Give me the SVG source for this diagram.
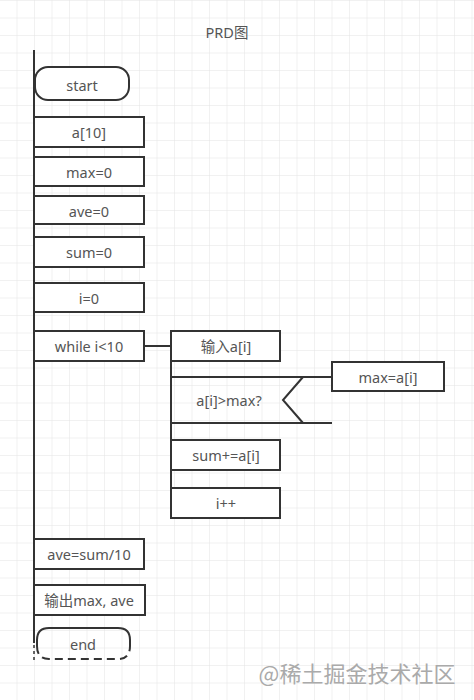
<svg xmlns="http://www.w3.org/2000/svg" width="474" height="700" viewBox="0 0 474 700">
<defs>
<pattern id="grid" x="16.5" y="0" width="17.5" height="17.5" patternUnits="userSpaceOnUse">
<path d="M0 0 H17.5 M0 0 V17.5" fill="none" stroke="#e3e3e3" stroke-width="1"/>
</pattern>
<style>
.box{fill:#fff;stroke:#333;stroke-width:2}
.ln{fill:none;stroke:#333;stroke-width:2}
.t{font-family:"Noto Sans","Noto Sans CJK SC",sans-serif;font-size:14.5px;fill:#555;text-anchor:middle;dominant-baseline:central}
</style>
</defs>
<rect width="474" height="700" fill="#fff"/>
<rect width="474" height="700" fill="url(#grid)"/>
<text class="t" x="227" y="32">PRD图</text>
<g id="connectors">
<path class="ln" d="M34 50 V643"/>
<path d="M34 645 V662" fill="none" stroke="#333" stroke-width="1.5" stroke-dasharray="3 3"/>
<path class="ln" d="M144 346 H171"/>
<path class="ln" d="M171 331 V518"/>
</g>
<g id="start"><rect class="box" x="35" y="67" width="94" height="33" rx="13"/><text class="t" x="82" y="85">start</text></g>
<g id="a10"><rect class="box" x="34" y="117" width="110" height="30"/><text class="t" x="89" y="132">a[10]</text></g>
<g id="max0"><rect class="box" x="34" y="157" width="110" height="29"/><text class="t" x="89" y="172">max=0</text></g>
<g id="ave0"><rect class="box" x="34" y="196" width="110" height="28"/><text class="t" x="89" y="211">ave=0</text></g>
<g id="sum0"><rect class="box" x="34" y="237" width="110" height="30"/><text class="t" x="89" y="252">sum=0</text></g>
<g id="i0"><rect class="box" x="34" y="283" width="110" height="29"/><text class="t" x="89" y="298">i=0</text></g>
<g id="while"><rect class="box" x="34" y="331" width="110" height="30"/><text class="t" x="89" y="346">while i&lt;10</text></g>
<g id="input"><rect class="box" x="171" y="331" width="109" height="30"/><text class="t" x="226" y="346">输入a[i]</text></g>
<g id="cond"><path class="ln" d="M171 377 H332 M171 423 H332 M303 377 L283 400 L303 423"/><text class="t" x="229" y="400">a[i]&gt;max?</text></g>
<g id="maxai"><rect class="box" x="332" y="362" width="112" height="29"/><text class="t" x="388" y="377">max=a[i]</text></g>
<g id="sumadd"><rect class="box" x="171" y="440" width="109" height="30"/><text class="t" x="226" y="455">sum+=a[i]</text></g>
<g id="iinc"><rect class="box" x="171" y="488" width="109" height="30"/><text class="t" x="226" y="503">i++</text></g>
<g id="ave"><rect class="box" x="34" y="539" width="110" height="30"/><text class="t" x="89" y="554">ave=sum/10</text></g>
<g id="output"><rect class="box" x="34" y="585" width="111" height="30"/><text class="t" x="89" y="600">输出max, ave</text></g>
<g id="end">
<path class="ln" d="M37 646 V640 Q37 628 49 628 H118 Q130 628 130 640 V646"/>
<path d="M37 646 Q37 659 49 659 H118 Q130 659 130 646" fill="none" stroke="#333" stroke-width="2" stroke-dasharray="8 5"/>
<text class="t" x="83" y="644">end</text>
</g>
<text x="357" y="672" font-family="'Noto Sans CJK SC','Noto Sans',sans-serif" font-size="22" fill="#aaa" text-anchor="middle" dominant-baseline="central">@稀土掘金技术社区</text>
</svg>
